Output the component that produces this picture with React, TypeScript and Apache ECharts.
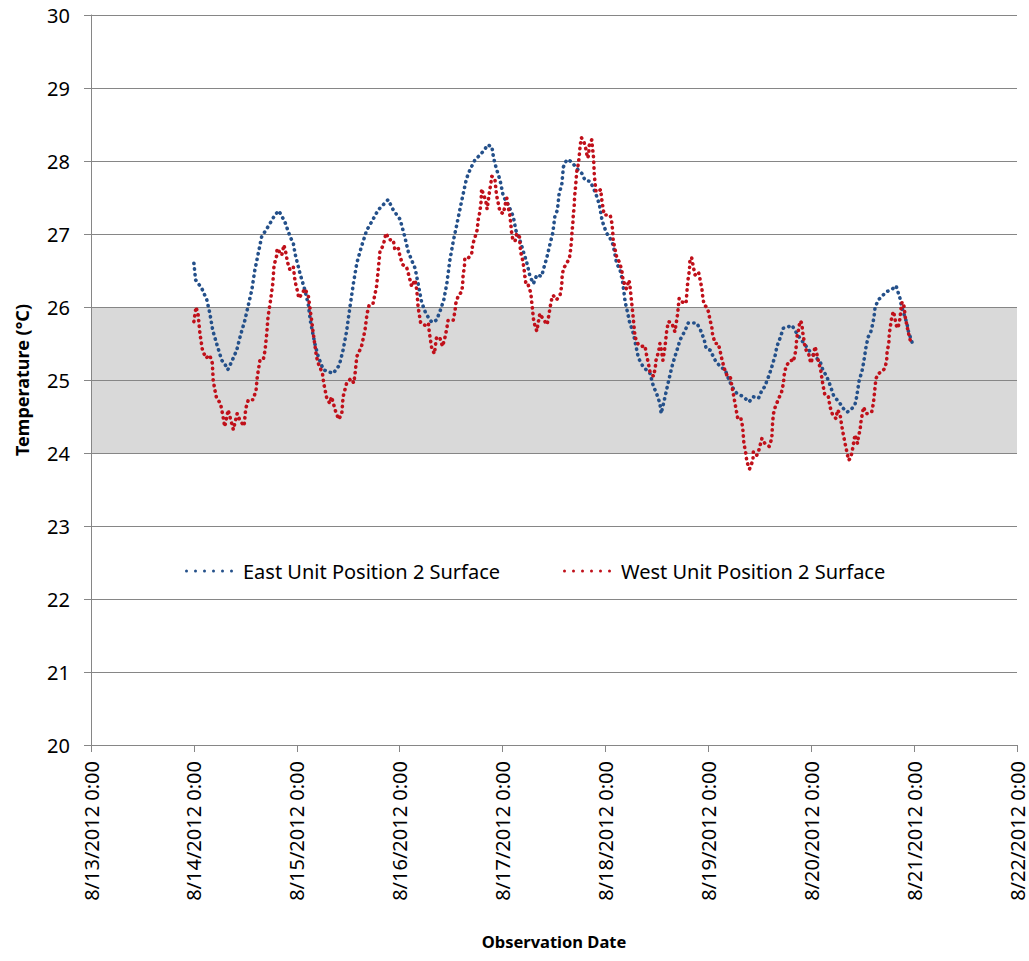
import React, { useEffect, useRef } from "react";
import * as echarts from "echarts";

// hours from 8/14/2012 0:00, temperature in °C
const eastUnit: [number, number][] = [[0,26.60],[0.4,26.37],[1.8,26.26],[3.0,26.10],[3.7,25.92],[4.4,25.68],[5.5,25.46],[6.5,25.27],[7.2,25.22],[7.9,25.14],[8.8,25.25],[10.0,25.41],[10.9,25.62],[11.9,25.82],[12.6,26.00],[13.5,26.23],[14.2,26.50],[15.0,26.73],[15.8,26.96],[17.3,27.10],[18.9,27.26],[19.8,27.32],[21.2,27.17],[22.4,26.97],[23.2,26.87],[23.6,26.73],[24.7,26.47],[25.9,26.23],[26.7,26.03],[27.2,25.80],[28.2,25.50],[29.0,25.32],[30.2,25.14],[32.5,25.09],[33.9,25.20],[34.8,25.41],[35.6,25.66],[36.4,26.00],[37.2,26.32],[38.0,26.60],[39.1,26.83],[40.3,27.05],[41.5,27.17],[43.0,27.33],[45.3,27.47],[46.5,27.33],[48.1,27.20],[49.2,26.96],[50.0,26.76],[50.8,26.64],[51.6,26.53],[52.3,26.32],[53.1,26.07],[54.1,25.91],[55.5,25.79],[56.6,25.82],[57.4,25.94],[58.3,26.10],[59.0,26.32],[59.7,26.64],[60.5,26.90],[61.3,27.12],[62.1,27.35],[63.0,27.60],[63.6,27.76],[64.4,27.88],[65.6,28.02],[66.7,28.08],[67.9,28.16],[68.4,28.22],[69.5,28.20],[69.8,28.08],[70.2,27.97],[70.8,27.85],[71.4,27.74],[72.2,27.51],[73.0,27.44],[73.7,27.35],[74.5,27.24],[75.1,27.05],[75.9,26.94],[76.5,26.83],[77.0,26.73],[77.6,26.62],[78.4,26.42],[79.2,26.32],[80.0,26.44],[81.1,26.42],[81.7,26.55],[82.3,26.67],[83.1,26.87],[83.7,27.01],[84.2,27.24],[84.8,27.33],[85.2,27.56],[85.8,27.67],[86.2,27.92],[87.0,28.02],[88.1,27.99],[89.3,27.90],[90.5,27.83],[91.2,27.74],[92.4,27.72],[93.2,27.63],[94.0,27.51],[94.6,27.40],[95.2,27.19],[95.7,27.10],[96.3,27.01],[97.1,26.94],[97.8,26.85],[98.6,26.60],[99.4,26.51],[100.0,26.35],[100.6,26.07],[101.1,25.94],[101.6,25.80],[102.5,25.64],[103.7,25.30],[104.8,25.18],[106.4,25.09],[107.2,24.91],[107.9,24.82],[108.7,24.68],[109.0,24.54],[109.9,24.77],[110.7,24.98],[111.5,25.18],[112.2,25.32],[112.8,25.43],[113.4,25.55],[114.6,25.68],[115.3,25.78],[117.3,25.78],[118.2,25.68],[119.0,25.56],[119.5,25.43],[120.4,25.41],[121.6,25.27],[122.8,25.18],[123.9,25.14],[124.7,25.02],[125.5,24.91],[126.6,24.82],[128.2,24.77],[129.5,24.70],[130.5,24.77],[131.7,24.75],[132.5,24.86],[133.2,24.91],[133.6,24.98],[134.2,25.07],[134.8,25.18],[135.6,25.34],[136.0,25.46],[136.7,25.57],[137.5,25.71],[138.7,25.73],[139.5,25.75],[140.2,25.68],[141.4,25.57],[142.6,25.48],[143.7,25.39],[144.9,25.32],[146.1,25.25],[146.7,25.14],[147.6,25.05],[148.4,24.93],[149.2,24.79],[150.0,24.73],[150.7,24.68],[151.5,24.61],[152.4,24.56],[153.5,24.61],[154.2,24.66],[154.6,24.77],[155.2,25.00],[155.8,25.11],[156.2,25.23],[156.8,25.46],[157.3,25.59],[157.9,25.66],[158.4,25.78],[158.7,25.89],[158.9,26.00],[159.7,26.10],[160.7,26.16],[161.6,26.21],[162.8,26.24],[163.8,26.29],[164.1,26.23],[164.7,26.12],[165.1,26.00],[165.7,25.89],[166.3,25.78],[166.7,25.66],[167.5,25.52]];

const westUnit: [number, number][] = [[0,25.80],[0.5,26.00],[1.0,25.89],[1.4,25.64],[2.0,25.41],[2.8,25.30],[3.7,25.34],[4.3,25.23],[4.5,25.00],[4.9,24.86],[5.3,24.75],[6.2,24.68],[6.8,24.50],[7.2,24.36],[8.0,24.59],[8.4,24.50],[9.2,24.32],[10.1,24.54],[10.7,24.45],[11.7,24.37],[12.1,24.61],[12.7,24.73],[13.8,24.73],[14.5,24.86],[14.8,25.05],[15.4,25.27],[16.2,25.28],[16.6,25.41],[17.0,25.64],[17.3,25.87],[17.9,26.10],[18.4,26.32],[18.7,26.57],[19.3,26.70],[19.4,26.80],[20.5,26.71],[21.0,26.85],[21.5,26.73],[21.8,26.62],[22.4,26.51],[23.2,26.55],[23.6,26.35],[24.1,26.23],[24.5,26.12],[25.4,26.20],[25.9,26.25],[26.7,26.15],[27.5,25.80],[27.8,25.66],[28.6,25.32],[29.0,25.23],[30.0,25.09],[30.3,24.95],[31.0,24.75],[31.7,24.68],[32.1,24.77],[33.1,24.56],[33.8,24.46],[34.5,24.54],[34.8,24.77],[35.6,24.95],[36.6,25.02],[37.3,24.96],[37.6,25.09],[38.0,25.32],[39.1,25.46],[39.9,25.68],[40.4,25.91],[40.9,26.03],[41.8,26.05],[42.6,26.28],[43.0,26.51],[43.4,26.76],[44.2,26.85],[44.8,27.01],[45.6,26.92],[46.5,26.92],[46.9,26.78],[47.7,26.80],[48.1,26.69],[48.7,26.58],[49.6,26.55],[50.2,26.42],[50.8,26.28],[51.6,26.37],[52.0,26.23],[52.3,26.00],[52.9,25.78],[53.9,25.75],[54.7,25.78],[54.9,25.66],[55.5,25.43],[56.1,25.36],[56.6,25.59],[57.4,25.57],[58.0,25.46],[58.6,25.59],[59.0,25.71],[59.3,25.82],[60.5,25.82],[60.9,25.94],[61.1,26.05],[61.7,26.16],[62.5,26.21],[62.7,26.32],[62.8,26.44],[63.1,26.55],[63.2,26.67],[64.0,26.67],[64.8,26.73],[65.0,26.85],[65.6,26.96],[66.1,27.06],[66.3,27.19],[66.7,27.30],[67.0,27.45],[67.1,27.62],[68.1,27.45],[68.4,27.34],[68.9,27.56],[69.2,27.67],[69.5,27.79],[70.2,27.76],[70.6,27.53],[71.0,27.42],[71.4,27.30],[72.2,27.28],[72.6,27.40],[73.0,27.49],[73.3,27.37],[73.7,27.26],[73.9,27.15],[74.1,27.03],[74.4,26.92],[74.9,26.90],[75.3,27.00],[75.9,26.99],[76.2,26.76],[76.7,26.64],[77.0,26.53],[77.2,26.42],[77.5,26.30],[78.0,26.30],[78.6,26.19],[78.8,26.07],[79.0,25.96],[79.2,25.84],[79.6,25.73],[80.0,25.67],[80.3,25.78],[80.7,25.91],[81.4,25.84],[82.4,25.76],[82.8,25.89],[83.1,26.00],[83.5,26.12],[83.8,26.16],[84.6,26.10],[85.4,26.16],[85.8,26.29],[85.9,26.42],[86.2,26.53],[86.8,26.58],[87.6,26.67],[87.9,26.80],[88.1,26.92],[88.2,27.03],[88.4,27.15],[88.5,27.26],[88.7,27.37],[88.8,27.51],[89.0,27.63],[89.3,27.85],[89.7,27.97],[89.9,28.08],[90.1,28.21],[90.4,28.32],[91.0,28.26],[91.5,28.15],[91.8,28.04],[92.1,28.08],[92.2,28.21],[92.8,28.29],[93.0,28.17],[93.2,28.06],[93.3,27.95],[93.4,27.81],[93.6,27.69],[93.8,27.58],[94.3,27.58],[94.9,27.61],[95.1,27.49],[95.4,27.37],[95.7,27.26],[96.3,27.26],[97.1,27.26],[97.5,27.15],[97.7,27.03],[97.8,26.92],[98.2,26.80],[98.6,26.69],[99.2,26.62],[99.8,26.51],[100.1,26.37],[100.9,26.25],[101.5,26.37],[101.7,26.30],[102.1,26.07],[102.5,25.84],[102.9,25.59],[103.7,25.48],[104.5,25.46],[105.2,25.47],[105.6,25.34],[106.0,25.23],[106.4,25.11],[107.2,25.05],[107.6,25.16],[107.8,25.27],[108.4,25.39],[108.7,25.50],[109.1,25.39],[109.4,25.27],[109.9,25.46],[110.3,25.68],[110.7,25.80],[111.5,25.78],[112.2,25.66],[112.8,25.89],[113.2,26.12],[113.8,26.07],[114.8,26.05],[115.1,26.28],[115.3,26.39],[115.6,26.51],[115.7,26.64],[116.1,26.68],[116.5,26.55],[116.9,26.44],[117.7,26.48],[118.1,26.37],[118.5,26.25],[118.7,26.14],[119.0,26.03],[119.6,26.00],[120.0,25.94],[120.4,25.82],[120.8,25.73],[121.0,25.62],[121.6,25.50],[122.3,25.50],[122.7,25.41],[123.1,25.30],[123.7,25.16],[124.3,25.07],[125.1,25.05],[125.8,24.82],[126.5,24.59],[126.9,24.46],[127.6,24.47],[128.0,24.36],[128.3,24.13],[128.7,24.01],[129.0,23.88],[129.6,23.78],[130.4,23.90],[130.5,24.02],[131.3,23.97],[131.7,24.02],[132.1,24.11],[132.5,24.20],[133.2,24.13],[134.2,24.09],[134.8,24.20],[135.0,24.43],[135.2,24.54],[135.6,24.63],[136.3,24.73],[137.1,24.84],[137.5,24.95],[137.7,25.07],[138.1,25.18],[138.9,25.26],[139.5,25.27],[139.8,25.25],[140.2,25.34],[140.5,25.46],[140.6,25.57],[141.0,25.68],[141.4,25.81],[141.8,25.78],[142.0,25.66],[142.3,25.55],[142.6,25.43],[143.4,25.36],[143.9,25.23],[144.5,25.34],[144.9,25.46],[145.3,25.36],[145.7,25.25],[146.2,25.14],[146.5,25.02],[146.8,24.91],[147.2,24.79],[148.0,24.77],[148.4,24.63],[149.0,24.52],[149.8,24.47],[150.1,24.59],[150.7,24.54],[151.1,24.38],[151.5,24.25],[151.9,24.13],[152.3,24.02],[152.7,23.90],[153.2,23.93],[153.6,24.04],[154.2,24.25],[154.8,24.13],[155.0,24.22],[155.4,24.32],[155.6,24.43],[156.2,24.63],[156.8,24.54],[157.3,24.54],[158.1,24.56],[158.5,24.68],[158.7,24.79],[158.9,24.91],[159.1,25.02],[159.7,25.09],[160.4,25.11],[161.2,25.16],[161.6,25.27],[161.7,25.39],[162.1,25.50],[162.2,25.63],[162.5,25.75],[162.8,25.87],[163.2,25.94],[163.6,25.82],[164.0,25.71],[164.3,25.73],[164.7,25.84],[164.9,25.96],[165.2,26.07],[165.7,26.00],[165.9,25.87],[166.3,25.75],[166.7,25.64],[167.2,25.52],[167.5,25.50]];

const dateLabels = ["8/13/2012 0:00","8/14/2012 0:00","8/15/2012 0:00","8/16/2012 0:00","8/17/2012 0:00","8/18/2012 0:00","8/19/2012 0:00","8/20/2012 0:00","8/21/2012 0:00","8/22/2012 0:00"];
const seriesNames = ["East Unit Position 2 Surface", "West Unit Position 2 Surface"];
const seriesColors = ["#24508A", "#C0101A"];
const yMin = 20;
const yMax = 30;
const bandLow = 24;
const bandHigh = 26;
const startOffsetHours = 24; // data starts at 8/14 0:00

const FONT = "'Noto Sans', 'Open Sans', sans-serif";

// six round dots, used as the legend key
const dotsIcon = "path://" + [0, 1, 2, 3, 4, 5]
  .map((k) => `M${k * 9},1.5a1.5,1.5 0 1,0 3,0a1.5,1.5 0 1,0 -3,0Z`)
  .join(" ");

export default function App() {
  const ref = useRef<HTMLDivElement>(null);
  useEffect(() => {
    if (!ref.current) return;
    const chart = echarts.init(ref.current, null, { renderer: "svg" });
    const bandColors: string[] = [];
    for (let v = yMin; v < yMax; v++) {
      bandColors.push(v >= bandLow && v < bandHigh ? "#D9D9D9" : "rgba(0,0,0,0)");
    }
    const toData = (arr: [number, number][]) => arr.map(([h, t]) => [h + startOffsetHours, t]);
    const lineSeries = (i: number, arr: [number, number][]) => ({
      name: seriesNames[i],
      type: "line",
      data: toData(arr),
      symbol: "none",
      showSymbol: false,
      smooth: false,
      color: seriesColors[i],
      lineStyle: { color: seriesColors[i], width: 3.6, type: [0.3, 5.4], cap: "round", join: "round" },
      z: 3 + i,
    });
    const legendText = { fontFamily: FONT, fontSize: 20, color: "#000", padding: [0, 0, 0, 5] };
    const legendBase = {
      top: 561,
      padding: 0,
      itemWidth: 48,
      itemHeight: 3.5,
      icon: dotsIcon,
      textStyle: legendText,
    };
    chart.setOption({
      animation: false,
      backgroundColor: "#fff",
      grid: { left: 91, top: 15, right: 12, bottom: 216, containLabel: false },
      legend: [
        { ...legendBase, data: [{ name: seriesNames[0], icon: dotsIcon, itemStyle: { color: seriesColors[0] } }], left: 185 },
        { ...legendBase, data: [{ name: seriesNames[1], icon: dotsIcon, itemStyle: { color: seriesColors[1] } }], left: 563 },
      ],
      xAxis: {
        type: "value",
        min: 0,
        max: (dateLabels.length - 1) * 24,
        interval: 24,
        name: "Observation Date",
        nameLocation: "middle",
        nameGap: 188,
        nameTextStyle: { fontFamily: FONT, fontSize: 16.5, fontWeight: "bold", color: "#000" },
        axisLine: { show: true, lineStyle: { color: "#868686", width: 1 } },
        axisTick: { show: true, length: 7, lineStyle: { color: "#868686" } },
        axisLabel: {
          rotate: 90,
          margin: 16,
          fontFamily: FONT,
          fontSize: 20,
          color: "#000",
          formatter: (v: number) => dateLabels[Math.round(v / 24)] ?? "",
        },
        splitLine: { show: false },
      },
      yAxis: {
        type: "value",
        min: yMin,
        max: yMax,
        interval: 1,
        name: "Temperature (°C)",
        nameLocation: "middle",
        nameGap: 60,
        nameTextStyle: { fontFamily: FONT, fontSize: 18, fontWeight: "bold", color: "#000" },
        axisLine: { show: true, lineStyle: { color: "#868686", width: 1 } },
        axisTick: { show: true, length: 7, lineStyle: { color: "#868686" } },
        axisLabel: { margin: 21, fontFamily: FONT, fontSize: 20, color: "#000" },
        splitLine: { show: true, lineStyle: { color: "#868686", width: 1 } },
        splitArea: { show: true, areaStyle: { color: bandColors } },
      },
      series: [lineSeries(0, eastUnit), lineSeries(1, westUnit)],
    });
    return () => chart.dispose();
  }, []);
  return (
    <div
      ref={ref}
      style={{ position: "fixed", left: 0, top: 0, width: 1029, height: 961, background: "#fff" }}
    />
  );
}
